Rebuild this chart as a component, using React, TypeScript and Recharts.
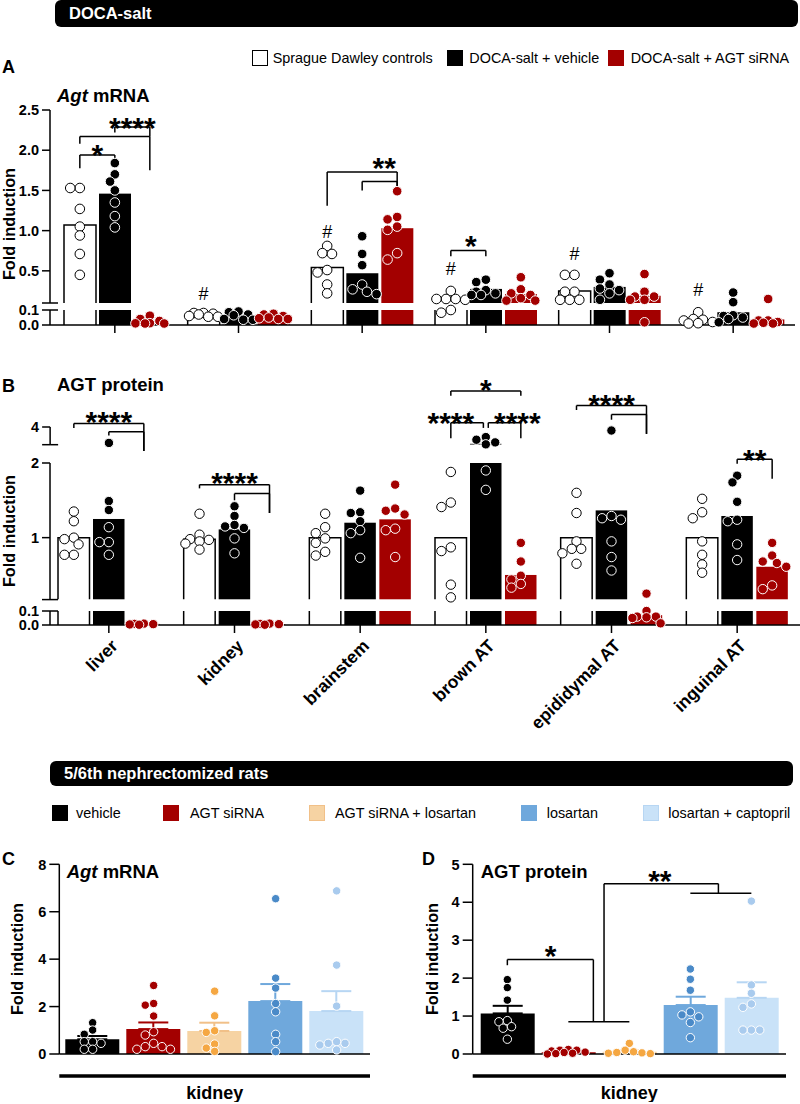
import React from "react";
import {
  ComposedChart,
  Bar,
  Scatter,
  XAxis,
  YAxis,
  ErrorBar,
  ReferenceLine,
  ReferenceDot,
} from "recharts";

const FONT = "'Liberation Sans', Arial, Helvetica, sans-serif";
const RED = "#a30000";

// ---------- DOCA-salt (A, B) ----------
const tissues = ["liver", "kidney", "brainstem", "brown AT", "epididymal AT", "inguinal AT"];
const docaGroups = ["Sprague Dawley controls", "DOCA-salt + vehicle", "DOCA-salt + AGT siRNA"];

// A: Agt mRNA, bar = group mean
const mrnaSD = [1.07, 0.068, 0.54, 0.14, 0.25, 0.033];
const mrnaVeh = [1.46, 0.055, 0.47, 0.275, 0.3, 0.085];
const mrnaSi = [0.025, 0.05, 1.03, 0.21, 0.19, 0.037];

const mrnaSDDots = [
  [1.53, 1.53, 1.27, 1.05, 0.94, 0.71, 0.45],
  [0.08, 0.08, 0.075, 0.07, 0.06, 0.055, 0.055],
  [0.81, 0.72, 0.71, 0.51, 0.48, 0.33, 0.22],
  [0.25, 0.15, 0.15, 0.15, 0.14, 0.1, 0.082],
  [0.45, 0.45, 0.24, 0.24, 0.14, 0.14, 0.14],
  [0.085, 0.04, 0.035, 0.03, 0.02, 0.012, 0.01],
];
const mrnaVehDots = [
  [1.84, 1.7, 1.61, 1.5, 1.35, 1.18, 1.04],
  [0.09, 0.085, 0.07, 0.065, 0.04, 0.035, 0.035],
  [0.93, 0.71, 0.57, 0.33, 0.27, 0.24, 0.21],
  [0.39, 0.36, 0.26, 0.24, 0.22, 0.2, 0.2],
  [0.47, 0.39, 0.33, 0.28, 0.26, 0.22, 0.14],
  [0.23, 0.11, 0.065, 0.06, 0.05, 0.04, 0.018],
];
const mrnaSiDots = [
  [0.062, 0.04, 0.027, 0.012, 0.011, 0.01, 0.01],
  [0.075, 0.07, 0.06, 0.05, 0.045, 0.04, 0.04],
  [1.49, 1.17, 1.14, 1.05, 1.01, 0.72, 0.64],
  [0.42, 0.27, 0.22, 0.2, 0.16, 0.13, 0.13],
  [0.46, 0.24, 0.18, 0.18, 0.14, 0.14, 0.018],
  [0.15, 0.03, 0.03, 0.02, 0.015, 0.01, 0.01],
];

// B: AGT protein
const protSD = [1.0, 0.98, 1.0, 1.0, 1.0, 1.0];
const protVeh = [1.25, 1.11, 1.2, 3.05, 1.365, 1.29];
const protSi = [0.008, 0.006, 1.245, 0.5, 0.07, 0.61];

const protSDDots = [
  [1.35, 1.22, 1.0, 0.98, 0.91, 0.77, 0.77],
  [1.32, 1.04, 0.98, 0.97, 0.95, 0.92, 0.84],
  [1.32, 1.14, 1.06, 0.99, 0.93, 0.81, 0.76],
  [1.88, 1.47, 1.41, 0.87, 0.82, 0.37, 0.2],
  [1.6, 1.33, 0.95, 0.85, 0.85, 0.79, 0.65],
  [1.52, 1.34, 1.26, 0.95, 0.77, 0.64, 0.53],
];
const protVehDots = [
  [3.1, 1.49, 1.37, 1.14, 0.94, 0.94, 0.77],
  [1.42, 1.29, 1.17, 1.15, 1.13, 0.99, 0.79],
  [1.63, 1.34, 1.33, 1.22, 1.1, 1.06, 0.73],
  [3.43, 3.28, 3.13, 3.02, 1.9, 1.64],
  [3.8, 1.29, 1.26, 1.24, 0.95, 0.74, 0.56],
  [1.83, 1.74, 1.48, 1.24, 1.22, 0.91, 0.7],
];
const protSiDots = [
  [0.01, 0.008, 0.006, 0.004, 0.002],
  [0.01, 0.008, 0.006, 0.004, 0.002],
  [1.71, 1.39, 1.36, 1.31, 1.12, 1.1, 0.74],
  [0.93, 0.68, 0.49, 0.44, 0.38, 0.33],
  [0.25, 0.1, 0.06, 0.06, 0.055, 0.05, 0.012],
  [0.93, 0.76, 0.68, 0.66, 0.61, 0.36, 0.31],
];

// axis ticks of each piece of the broken axes
const mrnaTicksHigh = [0.1, 0.5, 1, 1.5, 2, 2.5];
const mrnaTicksLow = [0, 0.1];
const protTicksTop = [3, 4];
const protTicksMid = [0.17, 1, 2];
const protTicksLow = [0, 0.1];

// significance marks: [tissue, fromBar, toBar, height, leftLegEnd, rightLegEnd]
const mrnaBrackets = [
  [0, 0, 1, 1.94, 1.775, 1.89],
  [0, 0, 2, 2.17, 2.08, 1.75],
  [0, 1, 2, 2.29, 2.22, 2.17],
  [2, 0, 2, 1.73, 1.31, 1.55],
  [2, 1, 2, 1.61, 1.5, 1.55],
  [3, 0, 1, 0.754, 0.68, 0.68],
];
const mrnaMarks = [
  { g: 0, b: 0.5, v: 2.04, t: "*" },
  { g: 0, b: 1.5, v: 2.375, t: "****" },
  { g: 2, b: 1.63, v: 1.875, t: "**" },
  { g: 3, b: 0.57, v: 0.91, t: "*" },
  { g: 1, b: 0, v: 0.22, t: "#" },
  { g: 2, b: 0, v: 0.99, t: "#" },
  { g: 3, b: 0, v: 0.53, t: "#" },
  { g: 4, b: 0, v: 0.72, t: "#" },
  { g: 5, b: 0, v: 0.27, t: "#" },
];
const protBrackets = [
  [0, 0, 2, 2.53, 2.47, 2.16],
  [0, 1, 2, 2.42, 2.37, 2.16],
  [1, 0, 2, 1.71, 1.66, 1.33],
  [1, 1, 2, 1.59, 1.5, 1.33],
  [3, 0, 2, 2.965, 2.9, 2.9],
  [3, 0, 0.93, 2.54, 2.33, 2.47],
  [3, 1.07, 2, 2.54, 2.47, 2.33],
  [4, 0, 2, 2.77, 2.71, 2.39],
  [4, 1, 2, 2.65, 2.58, 2.39],
  [5, 1, 2, 2.05, 1.99, 1.79],
];
const protMarks = [
  { g: 0, b: 1, v: 2.66, t: "****" },
  { g: 1, b: 1, v: 1.835, t: "****" },
  { g: 3, b: 1, v: 3.09, t: "*" },
  { g: 3, b: 0, v: 2.64, t: "****" },
  { g: 3, b: 1.9, v: 2.64, t: "****" },
  { g: 4, b: 1, v: 2.89, t: "****" },
  { g: 5, b: 1.5, v: 2.15, t: "**" },
];

// ---------- 5/6th nephrectomy (C, D) ----------
const nxGroups = ["vehicle", "AGT siRNA", "AGT siRNA + losartan", "losartan", "losartan + captopril"];
const nxTissue = ["kidney"];

const nxMrnaMean = [0.62, 1.05, 0.97, 2.23, 1.81];
const nxMrnaSem = [0.14, 0.28, 0.35, 0.72, 0.84];
const nxMrnaDots = [
  [1.32, 1.01, 0.83, 0.52, 0.52, 0.45, 0.2, 0.2],
  [2.89, 2.13, 2.06, 1.6, 0.94, 0.8, 0.45, 0.31, 0.31, 0.2, 0.2],
  [2.65, 1.61, 0.98, 0.91, 0.42, 0.25, 0.11],
  [6.55, 3.2, 2.78, 2.13, 1.78, 0.83, 0.52, 0.1],
  [6.88, 3.75, 2.02, 0.52, 0.45, 0.45, 0.38, 0.17],
];
const nxMrnaTicks = [0, 2, 4, 6, 8];

const nxProtMean = [1.07, 0.045, 0.06, 1.29, 1.48];
const nxProtSem = [0.2, 0.015, 0.03, 0.22, 0.41];
const nxProtDots = [
  [1.96, 1.75, 1.42, 0.88, 0.85, 0.72, 0.68, 0.39],
  [0.12, 0.1, 0.1, 0.08, 0.05, 0.04, 0.02, 0.01, 0.0],
  [0.28, 0.1, 0.06, 0.04, 0.03, 0.02, 0.01],
  [2.24, 1.97, 1.68, 1.11, 1.03, 0.98, 0.83, 0.43],
  [4.03, 1.82, 1.6, 1.32, 1.23, 0.63, 0.63, 0.63],
];
const nxProtTicks = [0, 1, 2, 3, 4, 5];
// polylines as [barIndex, value]
const nxProtLines = [
  [[0, 2.34], [0, 2.49], [1.41, 2.49], [1.41, 0.85]],
  [[1, 0.85], [2, 0.85]],
  [[1.585, 0.85], [1.585, 4.49], [3.46, 4.49], [3.46, 4.24]],
  [[3, 4.24], [4, 4.24]],
];
const nxProtMarks = [
  { b: 0.71, v: 2.79, t: "*" },
  { b: 2.5, v: 4.76, t: "**" },
];

// ---------- styles ----------
const docaStyle = [
  { fill: "#fff", edge: "#000", dot: "#fff", dotEdge: "#000" },
  { fill: "#000", edge: "none", dot: "#000", dotEdge: "#fff" },
  { fill: RED, edge: "none", dot: RED, dotEdge: "#fff" },
];
const nxStyle = [
  { fill: "#000", dot: "#000", err: "#000" },
  { fill: RED, dot: RED, err: RED },
  { fill: "#f6d3a3", dot: "#f5a742", err: "#f1c088" },
  { fill: "#6fa8dc", dot: "#4a8ac8", err: "#6fa8dc" },
  { fill: "#c9e2f8", dot: "#a9cbee", err: "#b7d6f3" },
];
const axisStroke = { stroke: "#000", strokeWidth: 1.5 };

type Seg = {
  lo: number;
  hi: number;
  top: number;
  bottom: number;
  ticks: number[];
  fmt: (v: number) => string;
  breaks: number[];
  mTop: number;
  mBottom: number;
  axis?: "ticks" | "labels";
};
type Lay = { plotLeft: number; plotRight: number; pad: number; barSize: number; barGap: number; r: number };

const segsA: Seg[] = [
  { lo: 0, hi: 0.1, top: 310, bottom: 325, ticks: mrnaTicksLow, fmt: (v) => v.toFixed(1), breaks: [0.1], mTop: 12, mBottom: 0, axis: "ticks" },
  { lo: 0.1, hi: 2.5, top: 110, bottom: 303, ticks: mrnaTicksHigh, fmt: (v) => (v === 0.1 ? "" : v.toFixed(1)), breaks: [0.1], mTop: 14, mBottom: 8 },
];
const segsB: Seg[] = [
  { lo: 0, hi: 0.1, top: 611, bottom: 625, ticks: protTicksLow, fmt: (v) => v.toFixed(1), breaks: [0.1], mTop: 12, mBottom: 0, axis: "labels" },
  { lo: 0.17, hi: 2, top: 462.7, bottom: 599.3, ticks: protTicksMid, fmt: (v) => (v < 0.5 ? "" : String(v)), breaks: [0.17], mTop: 94, mBottom: 8 },
  { lo: 3, hi: 4, top: 427.3, bottom: 445, ticks: protTicksTop, fmt: (v) => (v === 3 ? "" : String(v)), breaks: [3], mTop: 10, mBottom: 8 },
];
const layA: Lay = { plotLeft: 50, plotRight: 795, pad: 3, barSize: 32, barGap: 3, r: 4.8 };
const layB: Lay = { plotLeft: 50, plotRight: 800, pad: -4, barSize: 31.5, barGap: 3.5, r: 4.7 };

// greedy beeswarm: horizontal pixel offsets so dots overlap less
function swarm(vals: number[], ppu: number, r: number, maxOff: number): number[] {
  const out = vals.map(() => 0);
  const placed: { x: number; y: number }[] = [];
  const cands = [0];
  for (let k = 1; k * r <= maxOff; k++) cands.push(-k * r, k * r);
  const order = vals.map((_, i) => i).sort((a, b) => vals[b] - vals[a]);
  for (const i of order) {
    const y = vals[i] * ppu;
    let best = 0;
    let bestD = -1;
    for (const c of cands) {
      let d = Infinity;
      for (const p of placed) d = Math.min(d, Math.hypot(p.x - c, p.y - y));
      if (d >= 2 * r * 0.85) {
        best = c;
        break;
      }
      if (d > bestD) {
        bestD = d;
        best = c;
      }
    }
    placed.push({ x: best, y });
    out[i] = best;
  }
  return out;
}

const findSeg = (segs: Seg[], v: number) => segs.findIndex((s) => v >= s.lo && v <= s.hi);

const barShape = (st: { fill: string; edge: string }) => (p: any) => {
  const { x, y, width, height } = p;
  if (!(height > 0)) return <g />;
  return (
    <g>
      <rect x={x} y={y} width={width} height={height} fill={st.fill} />
      {st.edge !== "none" && (
        <path d={`M${x},${y + height} V${y} H${x + width} V${y + height}`} fill="none" stroke={st.edge} strokeWidth={1.5} />
      )}
    </g>
  );
};

const dotShape = (fill: string, stroke: string, r: number) => (p: any) => (
  <circle cx={p.cx} cy={p.cy} r={r} fill={fill} stroke={stroke} strokeWidth={1} />
);

const markShape = (t: string) => (p: any) => {
  const hash = t === "#";
  return (
    <text
      x={p.cx}
      y={p.cy}
      dy={hash ? "0.36em" : "0.6em"}
      textAnchor="middle"
      fontFamily={FONT}
      fontSize={hash ? 18 : 30}
      fontWeight={hash ? 400 : 700}
      fill="#000"
    >
      {t}
    </text>
  );
};

const yTick = (seg: Seg, size: number, margin: number) => (p: any) => {
  const v = p.payload.value;
  const ax = p.x + size + margin;
  return (
    <g>
      <text x={p.x} y={p.y} dy="0.36em" textAnchor="end" fontFamily={FONT} fontSize={14.5} fontWeight={700} fill="#000">
        {seg.fmt(v)}
      </text>
      {seg.breaks.includes(v) && <line x1={ax} x2={ax + 8} y1={p.y} y2={p.y} stroke="#000" strokeWidth={1.5} />}
    </g>
  );
};

const rotTick = (p: any) => {
  const x = p.x + 10;
  const y = p.y + 12;
  return (
    <text x={x} y={y} transform={`rotate(-45 ${x} ${y})`} textAnchor="end" fontFamily={FONT} fontSize={17.5} fontWeight={700} fill="#000">
      {p.payload.value}
    </text>
  );
};
const noTick = () => <g />;

function DocaSegment(props: {
  segs: Seg[];
  si: number;
  lay: Lay;
  means: number[][];
  dots: number[][][];
  brackets?: number[][];
  marks?: { g: number; b: number; v: number; t: string }[];
}) {
  const { segs, si, lay, means, dots, brackets = [], marks = [] } = props;
  const seg = segs[si];
  const band = (lay.plotRight - lay.plotLeft - lay.pad) / tissues.length;
  const step = (lay.barSize + lay.barGap) / band;
  const segPx = seg.bottom - seg.top;
  const ppu = segPx / (seg.hi - seg.lo);
  const xH = seg.axis === "labels" ? 110 : seg.axis === "ticks" ? 12 : 0;
  const height = seg.mTop + segPx + seg.mBottom + xH;
  const xOf = (g: number, b: number) => g + 0.5 + (b - 1) * step;

  const rows = tissues.map((t, g) => {
    const row: any = { tissue: t };
    means.forEach((m, k) => {
      row["m" + k] = m[g];
    });
    return row;
  });

  const pts = dots.map((byTissue, k) => {
    const out: { x: number; y: number }[] = [];
    byTissue.forEach((vals, g) => {
      const mine = vals.filter((v) => findSeg(segs, v) === si);
      const offs = swarm(mine, ppu, lay.r, lay.barSize / 2 - 1);
      mine.forEach((v, j) => out.push({ x: xOf(g, k) + offs[j] / band, y: v }));
    });
    return out;
  });

  const lines: { x1: number; y1: number; x2: number; y2: number }[] = [];
  brackets.forEach(([g, b1, b2, y, l, r]) => {
    const x1 = xOf(g, b1);
    const x2 = xOf(g, b2);
    lines.push({ x1, y1: l, x2: x1, y2: y }, { x1, y1: y, x2, y2: y }, { x1: x2, y1: y, x2, y2: r });
  });

  return (
    <div style={{ position: "absolute", left: 0, top: seg.top - seg.mTop }}>
      <ComposedChart
        width={800}
        height={height}
        data={rows}
        margin={{ top: seg.mTop, right: 800 - lay.plotRight, bottom: seg.mBottom, left: 0 }}
        barSize={lay.barSize}
        barGap={lay.barGap}
      >
        <XAxis
          xAxisId="cat"
          dataKey="tissue"
          type="category"
          hide={!seg.axis}
          height={xH}
          interval={0}
          padding={{ left: lay.pad, right: 0 }}
          axisLine={axisStroke}
          tickLine={axisStroke}
          tickSize={8}
          tick={seg.axis === "labels" ? rotTick : noTick}
        />
        <XAxis xAxisId="pts" type="number" dataKey="x" domain={[0, tissues.length]} hide padding={{ left: lay.pad, right: 0 }} />
        <YAxis
          yAxisId="bar"
          type="number"
          domain={[seg.lo, seg.hi]}
          allowDataOverflow
          ticks={seg.ticks}
          interval={0}
          width={lay.plotLeft}
          tickSize={8}
          tickMargin={3}
          axisLine={axisStroke}
          tickLine={axisStroke}
          tick={yTick(seg, 8, 3)}
        />
        <YAxis yAxisId="pts" type="number" dataKey="y" domain={[seg.lo, seg.hi]} hide />
        {means.map((_, k) => (
          <Bar
            key={"b" + k}
            xAxisId="cat"
            yAxisId="bar"
            dataKey={(row: any) => (si === 0 || row["m" + k] > seg.lo ? row["m" + k] : null)}
            shape={barShape(docaStyle[k])}
            isAnimationActive={false}
          />
        ))}
        {pts.map((data, k) =>
          data.length ? (
            <Scatter
              key={"s" + k}
              xAxisId="pts"
              yAxisId="pts"
              data={data}
              shape={dotShape(docaStyle[k].dot, docaStyle[k].dotEdge, lay.r)}
              isAnimationActive={false}
            />
          ) : null
        )}
        {lines.map((l, i) => (
          <ReferenceLine
            key={"l" + i}
            xAxisId="pts"
            yAxisId="pts"
            ifOverflow="visible"
            stroke="#000"
            strokeWidth={1.5}
            segment={[
              { x: l.x1, y: l.y1 },
              { x: l.x2, y: l.y2 },
            ]}
          />
        ))}
        {marks.map((m, i) => (
          <ReferenceDot key={"m" + i} xAxisId="pts" yAxisId="pts" x={xOf(m.g, m.b)} y={m.v} r={1} ifOverflow="visible" shape={markShape(m.t)} />
        ))}
      </ComposedChart>
    </div>
  );
}

const NX_BAR = 54;
const NX_GAP = 7;

function NxPanel(props: {
  left: number;
  width: number;
  plotLeft: number;
  yMax: number;
  ticks: number[];
  means: number[];
  sems: number[];
  dots: number[][];
  lines?: number[][][];
  marks?: { b: number; v: number; t: string }[];
}) {
  const { left, width, plotLeft, yMax, ticks, means, sems, dots, lines = [], marks = [] } = props;
  const top = 864.3;
  const bottom = 1054;
  const mTop = 14.3;
  const mRight = 2;
  const xH = 48;
  const plotW = width - plotLeft - mRight;
  const step = (NX_BAR + NX_GAP) / plotW;
  const xOf = (b: number) => 0.5 + (b - (means.length - 1) / 2) * step;
  const ppu = (bottom - top) / yMax;

  // SEM drawn upward only
  const row: any = { tissue: nxTissue[0] };
  means.forEach((m, k) => {
    row["m" + k] = m;
    row["e" + k] = [0, sems[k]];
  });
  const pts = dots.map((vals, k) => {
    const offs = swarm(vals, ppu, 4.2, 24);
    return vals.map((v, j) => ({ x: xOf(k) + offs[j] / plotW, y: v }));
  });
  const segs: { x1: number; y1: number; x2: number; y2: number }[] = [];
  lines.forEach((pl) => {
    for (let i = 1; i < pl.length; i++) {
      segs.push({ x1: xOf(pl[i - 1][0]), y1: pl[i - 1][1], x2: xOf(pl[i][0]), y2: pl[i][1] });
    }
  });

  const kidneyTick = (p: any) => (
    <g>
      <line x1={p.x - plotW / 2} x2={p.x + plotW / 2} y1={p.y + 14} y2={p.y + 14} stroke="#000" strokeWidth={3.5} />
      <text x={p.x} y={p.y + 37} textAnchor="middle" fontFamily={FONT} fontSize={18} fontWeight={700} fill="#000">
        {p.payload.value}
      </text>
    </g>
  );
  const nxYTick = (p: any) => (
    <text x={p.x} y={p.y} dy="0.36em" textAnchor="end" fontFamily={FONT} fontSize={14.5} fontWeight={700} fill="#000">
      {p.payload.value}
    </text>
  );

  return (
    <div style={{ position: "absolute", left, top: top - mTop }}>
      <ComposedChart
        width={width}
        height={mTop + (bottom - top) + xH}
        data={[row]}
        margin={{ top: mTop, right: mRight, bottom: 0, left: 0 }}
        barSize={NX_BAR}
        barGap={NX_GAP}
      >
        <XAxis xAxisId="cat" dataKey="tissue" type="category" height={xH} tickLine={false} axisLine={axisStroke} tick={kidneyTick} />
        <XAxis xAxisId="pts" type="number" dataKey="x" domain={[0, 1]} hide />
        <YAxis
          yAxisId="bar"
          type="number"
          domain={[0, yMax]}
          ticks={ticks}
          interval={0}
          width={plotLeft}
          tickSize={10}
          tickMargin={3}
          axisLine={axisStroke}
          tickLine={axisStroke}
          tick={nxYTick}
        />
        <YAxis yAxisId="pts" type="number" dataKey="y" domain={[0, yMax]} hide />
        {means.map((_, k) => (
          <Bar key={"b" + k} xAxisId="cat" yAxisId="bar" dataKey={"m" + k} fill={nxStyle[k].fill} isAnimationActive={false}>
            <ErrorBar dataKey={"e" + k} direction="y" width={15} strokeWidth={2} stroke={nxStyle[k].err} isAnimationActive={false} />
          </Bar>
        ))}
        {pts.map((data, k) => (
          <Scatter
            key={"s" + k}
            xAxisId="pts"
            yAxisId="pts"
            data={data}
            shape={dotShape(nxStyle[k].dot, "#fff", 4.2)}
            isAnimationActive={false}
          />
        ))}
        {segs.map((l, i) => (
          <ReferenceLine
            key={"l" + i}
            xAxisId="pts"
            yAxisId="pts"
            ifOverflow="visible"
            stroke="#000"
            strokeWidth={1.5}
            segment={[
              { x: l.x1, y: l.y1 },
              { x: l.x2, y: l.y2 },
            ]}
          />
        ))}
        {marks.map((m, i) => (
          <ReferenceDot key={"m" + i} xAxisId="pts" yAxisId="pts" x={xOf(m.b)} y={m.v} r={1} ifOverflow="visible" shape={markShape(m.t)} />
        ))}
      </ComposedChart>
    </div>
  );
}

function Txt({ x, y, size, bold = false, color = "#000", children }: any) {
  return (
    <div
      style={{
        position: "absolute",
        left: x,
        top: y - size / 2,
        fontSize: size,
        lineHeight: `${size}px`,
        fontWeight: bold ? 700 : 400,
        color,
        whiteSpace: "nowrap",
        fontFamily: FONT,
      }}
    >
      {children}
    </div>
  );
}

function YLabel({ x, y }: { x: number; y: number }) {
  return (
    <div
      style={{
        position: "absolute",
        left: x,
        top: y,
        transform: "translate(-50%, -50%) rotate(-90deg)",
        fontSize: 16.3,
        fontWeight: 700,
        whiteSpace: "nowrap",
        fontFamily: FONT,
        lineHeight: "18px",
      }}
    >
      Fold induction
    </div>
  );
}

function Header({ x, y, w, h, text }: { x: number; y: number; w: number; h: number; text: string }) {
  return (
    <div
      style={{
        position: "absolute",
        left: x,
        top: y,
        width: w,
        height: h,
        background: "#000",
        borderRadius: 6,
        color: "#fff",
        fontFamily: FONT,
        fontWeight: 700,
        fontSize: 16.5,
        lineHeight: `${h}px`,
        paddingLeft: 14,
        boxSizing: "border-box",
      }}
    >
      {text}
    </div>
  );
}

function Swatch({ x, y, fill, edge }: { x: number; y: number; fill: string; edge: string }) {
  return (
    <div
      style={{
        position: "absolute",
        left: x,
        top: y - 8,
        width: 16,
        height: 16,
        background: fill,
        border: `1px solid ${edge}`,
        boxSizing: "border-box",
      }}
    />
  );
}

const docaLegendX = [
  [251.7, 272.7],
  [446.7, 469.3],
  [607.7, 630.7],
];
const nxLegendX = [
  [52, 76],
  [162.7, 190],
  [309.3, 335],
  [520.7, 546.7],
  [643.3, 668.3],
];

export default function App() {
  const mrnaMeans = [mrnaSD, mrnaVeh, mrnaSi];
  const mrnaDots = [mrnaSDDots, mrnaVehDots, mrnaSiDots];
  const protMeans = [protSD, protVeh, protSi];
  const protDots = [protSDDots, protVehDots, protSiDots];

  return (
    <div
      style={{
        position: "absolute",
        left: 0,
        top: 0,
        width: 800,
        height: 1104,
        overflow: "hidden",
        background: "#fff",
        fontFamily: FONT,
      }}
    >
      <Header x={55} y={0} w={743} h={27} text="DOCA-salt" />
      {docaGroups.map((g, i) => (
        <React.Fragment key={g}>
          <Swatch x={docaLegendX[i][0]} y={57.7} fill={docaStyle[i].fill} edge={i === 0 ? "#000" : docaStyle[i].fill} />
          <Txt x={docaLegendX[i][1]} y={57.7} size={14.4}>
            {g}
          </Txt>
        </React.Fragment>
      ))}

      {/* A */}
      <Txt x={2} y={67} size={18} bold>
        A
      </Txt>
      <Txt x={57} y={96} size={18.5} bold>
        <span style={{ fontStyle: "italic" }}>Agt</span> mRNA
      </Txt>
      <YLabel x={9} y={224} />
      <DocaSegment segs={segsA} si={0} lay={layA} means={mrnaMeans} dots={mrnaDots} />
      <DocaSegment segs={segsA} si={1} lay={layA} means={mrnaMeans} dots={mrnaDots} brackets={mrnaBrackets} marks={mrnaMarks} />

      {/* B */}
      <Txt x={2} y={386} size={18} bold>
        B
      </Txt>
      <Txt x={57} y={385} size={18.5} bold>
        AGT protein
      </Txt>
      <YLabel x={9} y={531} />
      <DocaSegment segs={segsB} si={0} lay={layB} means={protMeans} dots={protDots} />
      <DocaSegment segs={segsB} si={1} lay={layB} means={protMeans} dots={protDots} brackets={protBrackets} marks={protMarks} />
      <DocaSegment segs={segsB} si={2} lay={layB} means={protMeans} dots={protDots} />

      {/* 5/6th nephrectomy */}
      <Header x={50} y={761} w={743} h={25} text="5/6th nephrectomized rats" />
      {nxGroups.map((g, i) => (
        <React.Fragment key={g}>
          <Swatch x={nxLegendX[i][0]} y={812.7} fill={nxStyle[i].fill} edge={i < 2 ? nxStyle[i].fill : nxStyle[i].err} />
          <Txt x={nxLegendX[i][1]} y={812.7} size={14.4}>
            {g}
          </Txt>
        </React.Fragment>
      ))}

      {/* C */}
      <Txt x={2} y={859} size={18} bold>
        C
      </Txt>
      <YLabel x={17} y={959} />
      <NxPanel left={0} width={372} plotLeft={59.3} yMax={8} ticks={nxMrnaTicks} means={nxMrnaMean} sems={nxMrnaSem} dots={nxMrnaDots} />
      <Txt x={66.7} y={872} size={18.5} bold>
        <span style={{ fontStyle: "italic" }}>Agt</span> mRNA
      </Txt>

      {/* D */}
      <Txt x={422} y={859} size={18} bold>
        D
      </Txt>
      <YLabel x={431.7} y={959} />
      <NxPanel
        left={412}
        width={376}
        plotLeft={60.7}
        yMax={5}
        ticks={nxProtTicks}
        means={nxProtMean}
        sems={nxProtSem}
        dots={nxProtDots}
        lines={nxProtLines}
        marks={nxProtMarks}
      />
      <Txt x={480.7} y={872} size={18.5} bold>
        AGT protein
      </Txt>
    </div>
  );
}
